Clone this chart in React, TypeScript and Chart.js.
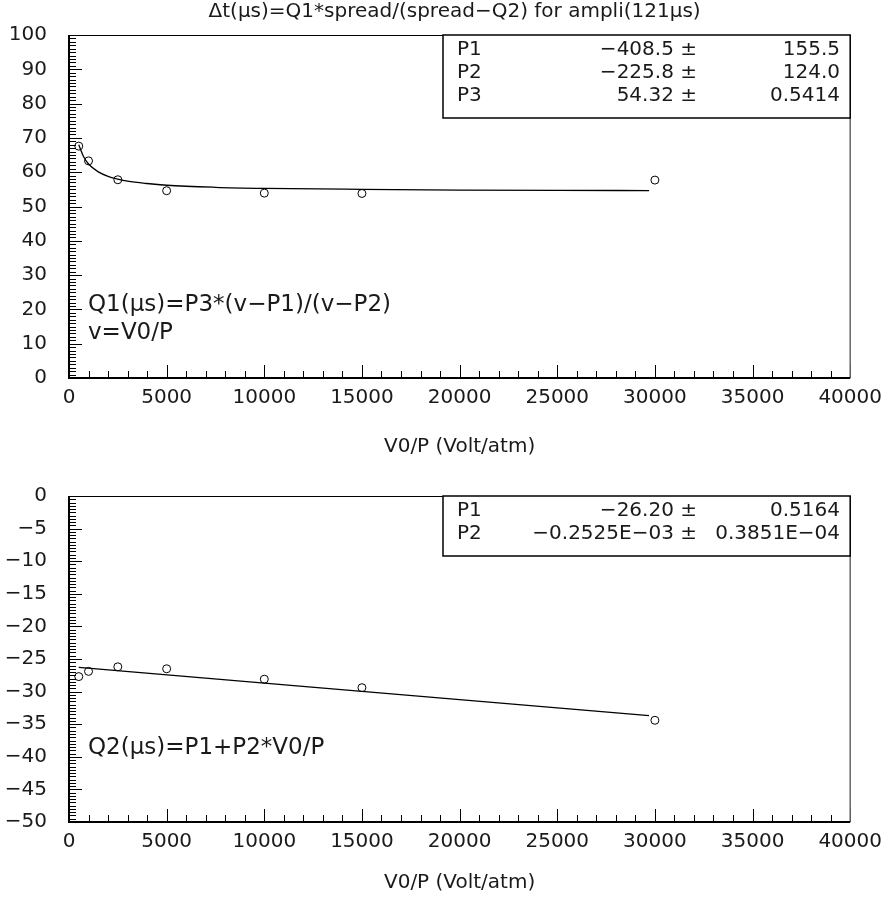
import React, { useEffect, useRef } from 'react';
import { Chart, registerables } from 'chart.js';
Chart.register(...registerables);

// ---------- data ----------
const vValues = [500, 1000, 2500, 5000, 10000, 15000, 30000];
const q1Values = [67.6, 63.3, 57.8, 54.6, 53.9, 53.8, 57.7];
const q2Values = [-27.7, -26.9, -26.2, -26.5, -28.1, -29.4, -34.4];

const q1FitV = [500, 750, 1000, 1500, 2000, 2500, 3000, 4000, 5000, 7500, 10000, 15000, 20000, 25000, 29700];
const q1FitY = [68.0, 64.5, 62.4, 60.1, 58.8, 58.0, 57.4, 56.7, 56.2, 55.6, 55.3, 55.0, 54.8, 54.7, 54.65];

const q2FitV = [500, 29700];
const q2FitY = [-26.3, -33.7];

const topTitle = 'Δt(μs)=Q1*spread/(spread−Q2) for ampli(121μs)';
const xAxisTitle = 'V0/P (Volt/atm)';

const stat1Names = ['P1', 'P2', 'P3'];
const stat1Values = ['−408.5 ±', '−225.8 ±', '54.32 ±'];
const stat1Errors = ['155.5', '124.0', '0.5414'];

const stat2Names = ['P1', 'P2'];
const stat2Values = ['−26.20 ±', '−0.2525E−03 ±'];
const stat2Errors = ['0.5164', '0.3851E−04'];

const note1 = ['Q1(μs)=P3*(v−P1)/(v−P2)', 'v=V0/P'];
const note2 = ['Q2(μs)=P1+P2*V0/P'];

const FONT = '"DejaVu Sans", "Liberation Sans", sans-serif';
const TXT = '#1a1a1a';

function fmt(v: number) {
  return v < 0 ? '\u2212' + Math.abs(v) : String(v);
}

type Panel = {
  height: number;
  padTop: number;
  xScaleH: number;
  yMin: number;
  yMax: number;
  yMajor: number;
  yMinor: number;
  points: number[];
  fitV: number[];
  fitY: number[];
  statNames: string[];
  statValues: string[];
  statErrors: string[];
  statRowH: number;
  notes: string[];
  notesY: number[];
  title?: string;
  xTitlePadBottom: number;
};

function makePlugin(p: Panel) {
  return {
    id: 'hbook',
    afterDatasetsDraw(chart: any) {
      const ctx = chart.ctx as CanvasRenderingContext2D;
      const a = chart.chartArea;
      const xs = chart.scales.x;
      const ys = chart.scales.y;
      ctx.save();
      ctx.strokeStyle = '#000';
      ctx.lineWidth = 1;
      // x ticks (inward)
      for (let v = 0; v <= 40000; v += 1000) {
        const px = Math.round(xs.getPixelForValue(v)) + 0.5;
        const len = v % 5000 === 0 ? 13 : 7;
        ctx.beginPath();
        ctx.moveTo(px, a.bottom);
        ctx.lineTo(px, a.bottom - len);
        ctx.stroke();
      }
      // y ticks (inward)
      const n = Math.round((p.yMax - p.yMin) / p.yMinor);
      for (let k = 0; k <= n; k++) {
        const v = p.yMin + k * p.yMinor;
        const r = v / p.yMajor;
        const major = Math.abs(r - Math.round(r)) < 1e-6;
        const py = Math.round(ys.getPixelForValue(v)) + 0.5;
        ctx.beginPath();
        ctx.moveTo(a.left, py);
        ctx.lineTo(a.left + (major ? 13 : 7), py);
        ctx.stroke();
      }
      // frame top/right
      ctx.lineWidth = 1.2;
      ctx.beginPath();
      ctx.moveTo(a.left, a.top + 0.5);
      ctx.lineTo(a.right, a.top + 0.5);
      ctx.stroke();
      ctx.strokeStyle = '#666';
      ctx.lineWidth = 1.5;
      ctx.beginPath();
      ctx.moveTo(a.right, a.top);
      ctx.lineTo(a.right, a.bottom);
      ctx.stroke();
      // axes left/bottom
      ctx.strokeStyle = '#000';
      ctx.lineWidth = 2;
      ctx.beginPath();
      ctx.moveTo(a.left, a.top);
      ctx.lineTo(a.left, a.bottom);
      ctx.lineTo(a.right, a.bottom);
      ctx.stroke();

      // stat box
      const bx = 443;
      const by = a.top;
      const bh = p.statNames.length * p.statRowH + 14;
      ctx.fillStyle = '#fff';
      ctx.fillRect(bx, by, a.right - bx, bh);
      ctx.strokeStyle = '#000';
      ctx.lineWidth = 1.5;
      ctx.strokeRect(bx, by, a.right - bx, bh);
      ctx.font = '20px ' + FONT;
      ctx.fillStyle = TXT;
      ctx.textBaseline = 'middle';
      p.statNames.forEach((nm, i) => {
        const ty = by + 15 + i * p.statRowH;
        ctx.textAlign = 'left';
        ctx.fillText(nm, 457, ty);
        ctx.textAlign = 'right';
        ctx.fillText(p.statValues[i], 697, ty);
        ctx.fillText(p.statErrors[i], 840, ty);
      });

      // notes
      ctx.font = '23px ' + FONT;
      ctx.textAlign = 'left';
      p.notes.forEach((t, i) => ctx.fillText(t, 88, p.notesY[i]));

      // title
      if (p.title) {
        ctx.font = '20px ' + FONT;
        ctx.textAlign = 'center';
        ctx.fillText(p.title, (a.left + a.right) / 2 - 5, 12);
      }
      ctx.restore();
    },
  };
}

function PanelChart({ p }: { p: Panel }) {
  const ref = useRef<HTMLCanvasElement | null>(null);
  useEffect(() => {
    if (!ref.current) return;
    const chart = new Chart(ref.current, {
      type: 'scatter',
      data: {
        datasets: [
          {
            data: p.fitV.map((v, i) => ({ x: v, y: p.fitY[i] })),
            showLine: true,
            borderColor: '#000',
            borderWidth: 1.3,
            pointRadius: 0,
            cubicInterpolationMode: 'monotone',
          } as any,
          {
            data: vValues.map((v, i) => ({ x: v, y: p.points[i] })),
            showLine: false,
            pointStyle: 'circle',
            pointRadius: 4,
            pointBorderWidth: 1,
            pointBorderColor: '#000',
            pointBackgroundColor: 'rgba(255,255,255,0)',
          } as any,
        ],
      },
      options: {
        responsive: false,
        animation: false,
        devicePixelRatio: 1,
        layout: { padding: { top: p.padTop, left: 0, right: 35, bottom: 0 } },
        plugins: { legend: { display: false }, tooltip: { enabled: false }, title: { display: false } },
        scales: {
          x: {
            type: 'linear',
            min: 0,
            max: 40000,
            grid: { display: false, drawTicks: false },
            border: { display: false },
            ticks: {
              stepSize: 5000,
              autoSkip: false,
              maxRotation: 0,
              padding: 8,
              color: TXT,
              font: { family: FONT, size: 20 },
              callback: (v: any) => fmt(Number(v)),
            },
            title: {
              display: true,
              text: xAxisTitle,
              color: TXT,
              font: { family: FONT, size: 20 },
              padding: { top: 0, bottom: p.xTitlePadBottom },
            },
            afterFit: (s: any) => {
              s.height = p.xScaleH;
            },
          },
          y: {
            type: 'linear',
            min: p.yMin,
            max: p.yMax,
            grid: { display: false, drawTicks: false },
            border: { display: false },
            ticks: {
              stepSize: p.yMajor,
              autoSkip: false,
              padding: 22,
              color: TXT,
              font: { family: FONT, size: 20 },
              callback: (v: any) => fmt(Number(v)),
            },
            afterFit: (s: any) => {
              s.width = 69;
            },
          },
        },
      } as any,
      plugins: [makePlugin(p)],
    });
    return () => chart.destroy();
  }, [p]);
  return <canvas ref={ref} width={890} height={p.height} style={{ display: 'block' }} />;
}

const panel1: Panel = {
  height: 462,
  padTop: 35,
  xScaleH: 84,
  yMin: 0,
  yMax: 100,
  yMajor: 10,
  yMinor: 1,
  points: q1Values,
  fitV: q1FitV,
  fitY: q1FitY,
  statNames: stat1Names,
  statValues: stat1Values,
  statErrors: stat1Errors,
  statRowH: 23,
  notes: note1,
  notesY: [305, 333],
  title: topTitle,
  xTitlePadBottom: 3,
};

const panel2: Panel = {
  height: 440,
  padTop: 15,
  xScaleH: 80,
  yMin: -50,
  yMax: 0,
  yMajor: 5,
  yMinor: 0.5,
  points: q2Values,
  fitV: q2FitV,
  fitY: q2FitY,
  statNames: stat2Names,
  statValues: stat2Values,
  statErrors: stat2Errors,
  statRowH: 23,
  notes: note2,
  notesY: [748 - 462],
  xTitlePadBottom: 7,
};

export default function App() {
  return (
    <div style={{ position: 'absolute', left: 0, top: 0, width: 890, height: 902, background: '#fff' }}>
      <PanelChart p={panel1} />
      <PanelChart p={panel2} />
    </div>
  );
}
